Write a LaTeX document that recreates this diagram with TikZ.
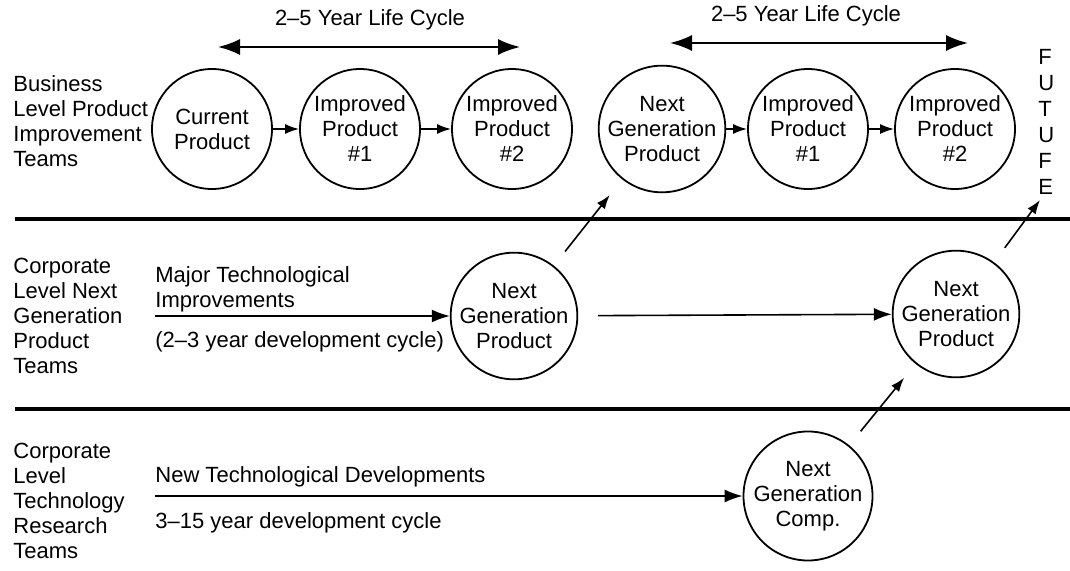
\documentclass[tikz,border=0pt]{standalone}
\usepackage{fontspec}
\setmainfont{Liberation Sans}
\usetikzlibrary{arrows.meta}

\tikzset{
	stage/.style={circle,draw,line width=0.9pt,minimum size=60pt,inner sep=0pt,align=center},
	teamtext/.style={anchor=west,align=left,inner sep=0pt},
	lanetext/.style={anchor=west,inner sep=0pt},
	divider/.style={line width=1.6pt},
	lifespan/.style={line width=1pt,{Latex[length=11pt,width=8pt]}-{Latex[length=11pt,width=8pt]}},
	fwd/.style={line width=0.8pt,-{Latex[length=9pt,width=6.5pt]}},
	hop/.style={line width=0.8pt,-{Latex[length=7pt,width=5pt]}}
}

\begin{document}
\begin{tikzpicture}[x=0.5pt,y=-0.5pt,font=\fontsize{11}{12.5}\selectfont]
\useasboundingbox (0,0) rectangle (1070,571);

% team labels
\node[teamtext] (bizteam) at (13,121) {Business\\Level Product\\Improvement\\Teams};
\node[teamtext] (ngteam) at (13,316) {Corporate\\Level Next\\Generation\\Product\\Teams};
\node[teamtext] (resteam) at (13,501) {Corporate\\Level\\Technology\\Research\\Teams};

\draw[divider] (15,219) -- (1070,219);
\draw[divider] (15,409) -- (1070,409);

% product circles
\node[stage] (cur) at (212,129) {Current\\Product};
\node[stage] (impa) at (360,129) {Improved\\Product\\\#1};
\node[stage] (impb) at (512,129) {Improved\\Product\\\#2};
\node[stage] (ngtop) at (662,129) {Next\\Generation\\Product};
\node[stage] (impc) at (808,129) {Improved\\Product\\\#1};
\node[stage] (impd) at (955,129) {Improved\\Product\\\#2};

\node[stage] (ngmid) at (514,316) {Next\\Generation\\Product};
\node[stage] (ngright) at (956,314) {Next\\Generation\\Product};
\node[stage] (ngcomp) at (808,496) {Next\\Generation\\Comp.};

\draw[hop] (cur) -- (impa);
\draw[hop] (impa) -- (impb);
\draw[hop] (ngtop) -- (impc);
\draw[hop] (impc) -- (impd);

% life cycles
\coordinate (lcaL) at (218,47);
\coordinate (lcaR) at (520,47);
\coordinate (lcbL) at (670,43);
\coordinate (lcbR) at (968,43);
\draw[lifespan] (lcaL) -- (lcaR);
\draw[lifespan] (lcbL) -- (lcbR);
\node (lcatext) at (370,20) {2--5 Year Life Cycle};
\node (lcbtext) at (806,16) {2--5 Year Life Cycle};

\node[anchor=north west,align=left,inner sep=0pt,font=\fontsize{11}{13}\selectfont] (future) at (1038,49) {F\\U\\T\\U\\F\\E};

% development inputs
\node[lanetext,align=left] (majtext) at (155,289) {Major Technological\\Improvements};
\node[lanetext] (majcycle) at (155,342) {(2--3 year development cycle)};
\coordinate (majstart) at (155,316);
\draw[fwd] (majstart) -- (ngmid);

\node[lanetext] (newtext) at (155,477) {New Technological Developments};
\node[lanetext] (newcycle) at (155,523) {3--15 year development cycle};
\coordinate (newstart) at (155,496);
\draw[fwd] (newstart) -- (ngcomp);

\draw[fwd,shorten <=10pt] (ngmid) -- (ngright);

\coordinate (futurein) at (1040,200);
\draw[hop,shorten <=9pt,shorten >=10pt] (ngmid) -- (ngtop);
\draw[hop,shorten <=9pt] (ngright) -- (futurein);
\draw[hop,shorten <=9pt,shorten >=9pt] (ngcomp) -- (ngright);

\end{tikzpicture}
\end{document}
